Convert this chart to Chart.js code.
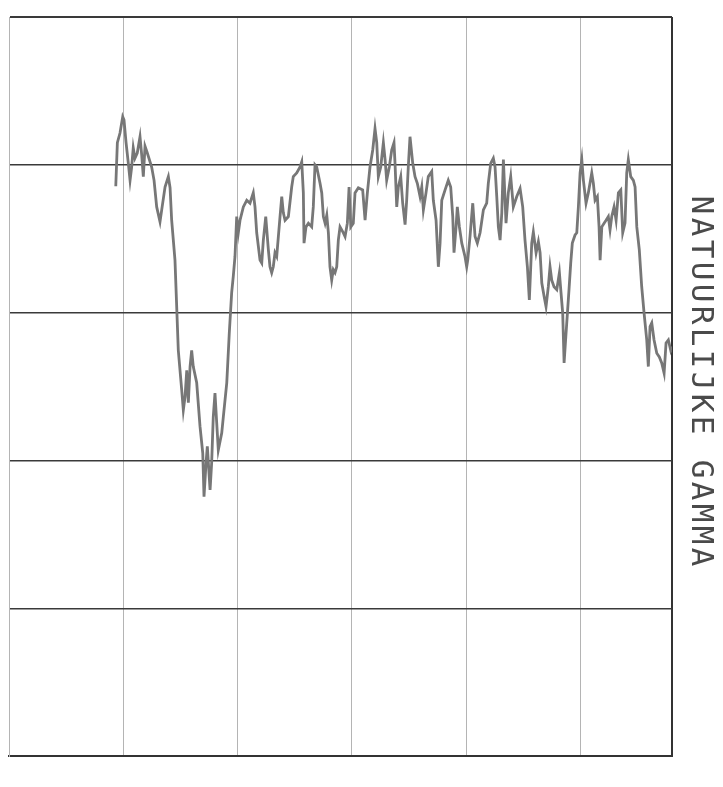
<!DOCTYPE html>
<html>
<head>
<meta charset="utf-8">
<script src="https://cdn.jsdelivr.net/npm/chart.js@4/dist/chart.umd.min.js"></script>
<style>
  html, body { margin: 0; padding: 0; background: #fff; }
  canvas { display: block; }
</style>
</head>
<body>
<canvas id="gammaLog" width="723" height="787"></canvas>
<script>
// depth along the log (grid every 100) and natural gamma (grid every 20)
const depth = [
  93.4, 94.8, 97.1, 99.5, 100.6, 102.4, 104.4, 105.9, 107.3, 108.7,
  110.2, 112.2, 114.6, 116.1, 117.5, 119.0, 121.0, 123.4, 124.8, 126.9,
  129.2, 132.1, 133.6, 136.5, 139.4, 140.9, 142.3, 145.2, 148.1, 151.1,
  152.5, 154.0, 155.5, 156.9, 158.4, 159.8, 161.2, 164.2, 167.1, 169.5,
  170.6, 172.4, 173.5, 175.9, 177.3, 178.7, 180.2, 181.7, 183.1, 186.1,
  187.5, 190.5, 192.7, 194.8, 196.2, 197.7, 199.2, 200.6, 202.1, 205.0,
  208.0, 210.8, 213.7, 215.2, 216.7, 219.6, 221.1, 222.5, 224.6, 226.9,
  228.3, 229.8, 231.2, 232.7, 234.2, 237.1, 238.6, 240.0, 241.5, 244.4,
  247.3, 248.7, 251.7, 254.6, 256.1, 257.5, 258.1, 259.8, 261.9, 264.8,
  266.2, 267.7, 269.2, 272.1, 273.6, 275.0, 276.5, 278.0, 279.4, 280.8,
  282.3, 283.7, 285.2, 286.7, 288.1, 289.6, 292.5, 294.0, 296.0, 297.5,
  299.0, 301.2, 302.7, 305.6, 309.4, 311.5, 313.5, 315.8, 318.2, 320.2,
  321.7, 323.1, 325.2, 327.5, 329.0, 330.4, 332.7, 334.8, 336.8, 337.7,
  339.2, 340.6, 342.7, 344.4, 346.5, 347.9, 349.3, 350.8, 353.2, 355.2,
  357.2, 359.6, 361.1, 362.5, 364.8, 366.8, 369.8, 371.2, 373.6, 375.6,
  377.1, 378.6, 381.5, 384.3, 386.4, 388.2, 389.3, 391.1, 392.2, 394.0,
  396.1, 398.9, 400.4, 401.3, 403.3, 405.7, 407.7, 409.7, 412.1, 415.0,
  417.9, 419.3, 421.4, 423.7, 425.2, 426.7, 428.1, 429.6, 431.1, 432.5,
  434.8, 436.8, 438.9, 441.2, 444.2, 447.1, 449.4, 451.4, 453.5, 455.2,
  457.3, 458.7, 461.1, 463.1, 464.6, 466.1, 468.1, 469.8, 471.8, 473.3,
  474.8, 476.8, 479.2, 481.5, 482.9, 484.4, 485.6, 487.1, 488.5, 489.9,
  491.4, 492.8, 495.2, 496.7, 498.1, 499.6, 501.1, 502.5, 504.8, 506.8,
  509.8, 511.2, 512.7, 514.7, 516.2, 517.1, 518.6, 520.6, 522.3, 524.3,
  525.8, 527.3, 529.3, 531.1, 533.1, 535.2, 536.9, 538.9, 540.4, 541.8,
  543.9, 546.2, 547.7, 549.2, 551.4, 553.5, 555.6, 557.9, 559.3, 560.8,
  562.3, 564.3, 566.7, 568.9, 571.0, 573.1, 574.8, 576.8, 578.9, 580.0
];
const gamma = [
  77.1, 83.0, 84.3, 86.5, 86.1, 83.0, 80.2, 77.9, 79.7, 82.3,
  80.9, 81.6, 83.8, 81.3, 78.4, 82.5, 81.6, 80.4, 79.7, 77.9,
  74.3, 72.3, 73.9, 77.0, 78.4, 76.9, 72.5, 67.1, 54.9, 49.5,
  46.8, 48.6, 52.2, 47.8, 52.7, 54.9, 52.7, 50.5, 44.6, 41.0,
  35.1, 39.7, 41.9, 36.0, 39.7, 45.9, 49.1, 45.1, 41.4, 43.7,
  45.9, 50.5, 57.2, 62.7, 64.9, 67.6, 73.0, 70.8, 72.5, 74.3,
  75.2, 74.8, 76.2, 74.3, 70.8, 67.1, 66.7, 69.8, 73.0, 68.5,
  66.2, 65.4, 66.2, 68.1, 67.6, 73.0, 75.7, 73.5, 72.5, 73.0,
  77.0, 78.4, 78.9, 79.7, 80.4, 76.2, 69.4, 71.6, 72.1, 71.6,
  74.3, 80.0, 79.7, 77.5, 76.2, 73.0, 72.1, 73.2, 70.8, 66.2,
  64.4, 65.8, 65.4, 66.2, 69.8, 71.6, 70.8, 70.3, 72.1, 77.0,
  71.6, 72.1, 76.2, 76.9, 76.6, 72.5, 76.2, 79.7, 82.0, 84.9,
  83.0, 78.4, 79.7, 83.0, 80.7, 77.9, 79.7, 82.0, 83.0, 80.2,
  74.3, 77.0, 78.4, 74.8, 71.9, 75.2, 79.7, 83.8, 80.2, 78.4,
  77.5, 75.7, 77.0, 73.9, 76.2, 78.4, 79.1, 75.2, 72.5, 66.2,
  69.4, 75.2, 76.6, 77.9, 77.0, 73.0, 68.1, 71.6, 74.3, 71.6,
  69.4, 67.6, 66.2, 67.1, 70.3, 74.8, 70.3, 69.4, 70.8, 73.9,
  74.8, 77.5, 80.2, 80.9, 79.7, 75.7, 71.6, 69.8, 73.5, 80.7,
  72.1, 76.2, 78.4, 74.3, 75.7, 76.8, 74.3, 69.8, 66.2, 61.7,
  69.4, 70.9, 68.1, 69.6, 68.1, 64.0, 62.2, 60.8, 63.5, 66.2,
  64.4, 63.5, 63.1, 65.4, 62.7, 59.9, 53.2, 56.7, 59.9, 63.1,
  66.7, 69.4, 70.5, 70.8, 74.3, 78.9, 80.7, 77.9, 74.8, 76.2,
  78.9, 77.5, 75.2, 75.7, 71.6, 67.1, 71.6, 72.1, 72.5, 73.0,
  71.2, 73.0, 74.3, 72.5, 76.2, 76.6, 70.8, 72.1, 78.9, 80.7,
  78.4, 77.9, 77.0, 71.6, 68.5, 63.5, 59.9, 56.3, 52.7, 58.1,
  58.6, 56.3, 54.5, 54.0, 53.2, 51.8, 55.9, 56.3, 54.9, 55.4
];
const depthMax = 580;
const gammaMax = 100;
const axisLabel = 'NATUURLIJKE GAMMA';

const points = depth.map((d, i) => ({ x: d, y: gamma[i] }));

// vertical label on the right, drawn one letter at a time like a plotter
const sideLabel = {
  id: 'sideLabel',
  afterDraw(chart) {
    const ctx = chart.ctx;
    const step = 22;
    ctx.save();
    ctx.translate(chart.chartArea.right + 28, 381);
    ctx.rotate(Math.PI / 2);
    ctx.font = '31px "DejaVu Sans Mono"';
    ctx.fillStyle = '#4a4a4a';
    ctx.textBaseline = 'middle';
    ctx.textAlign = 'center';
    const start = -(axisLabel.length - 1) * step / 2;
    for (let i = 0; i < axisLabel.length; i++) {
      ctx.fillText(axisLabel[i], start + i * step, 0);
    }
    ctx.restore();
  }
};

new Chart(document.getElementById('gammaLog'), {
  type: 'line',
  data: {
    datasets: [{
      data: points,
      borderColor: '#777777',
      borderWidth: 2.8,
      pointRadius: 0,
      tension: 0,
      fill: false
    }]
  },
  options: {
    responsive: false,
    animation: false,
    devicePixelRatio: 1,
    layout: { padding: { left: 9, top: 17, right: 51, bottom: 31 } },
    plugins: { legend: { display: false }, tooltip: { enabled: false } },
    scales: {
      x: {
        type: 'linear',
        min: 0,
        max: depthMax,
        ticks: { display: false, stepSize: 100 },
        grid: {
          drawTicks: false,
          color: c => (c.tick && c.tick.value === depthMax) ? '#333' : '#b4b4b4',
          lineWidth: c => (c.tick && c.tick.value === depthMax) ? 2 : 1
        },
        border: { color: '#333', width: 2 }
      },
      y: {
        min: 0,
        max: gammaMax,
        ticks: { display: false, stepSize: 20 },
        grid: {
          drawTicks: false,
          color: '#3a3a3a',
          lineWidth: c => (c.tick && (c.tick.value === gammaMax || c.tick.value === 0)) ? 2 : 1.4
        },
        border: { color: '#b4b4b4', width: 1 }
      }
    }
  },
  plugins: [sideLabel]
});
</script>
</body>
</html>
